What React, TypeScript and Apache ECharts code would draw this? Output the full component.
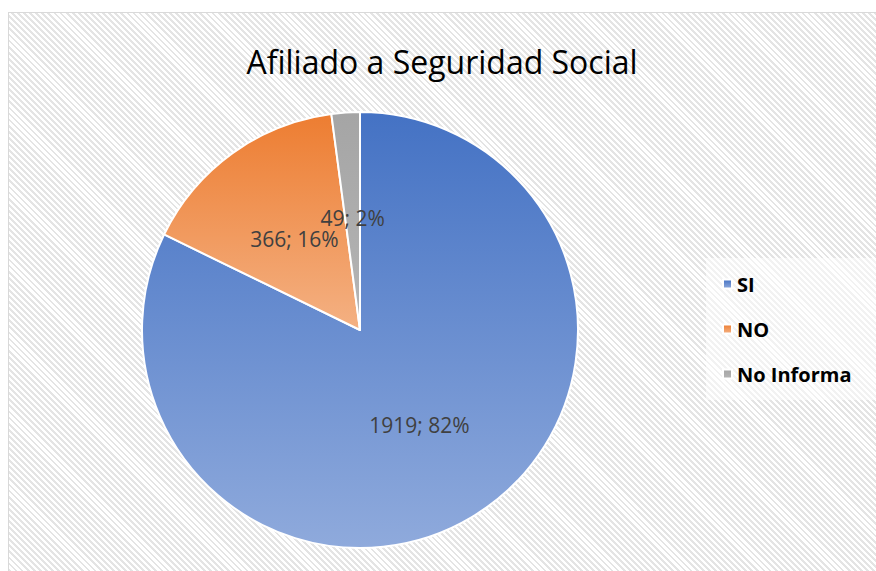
import React, { useEffect, useRef } from "react";
import * as echarts from "echarts";

const categories = ["SI", "NO", "No Informa"];
const values = [1919, 366, 49];
const percents = ["82%", "16%", "2%"];
const titleText = "Afiliado a Seguridad Social";

const gradients = [
  ["#4472C4", "#8FAADC"],
  ["#ED7D31", "#F4B183"],
  ["#A5A5A5", "#B5B5B5"],
];

export default function App() {
  const ref = useRef<HTMLDivElement>(null);
  useEffect(() => {
    if (!ref.current) return;
    const chart = echarts.init(ref.current, null, { renderer: "svg" });
    const data = categories.map((name, i) => ({
      name,
      value: values[i],
      label: { formatter: `${values[i]}; ${percents[i]}` },
      itemStyle: {
        color: new echarts.graphic.LinearGradient(0, 0, 0, 1, [
          { offset: 0, color: gradients[i][0] },
          { offset: 1, color: gradients[i][1] },
        ]),
      },
    }));
    chart.setOption({
      animation: false,
      backgroundColor: "transparent",
      title: {
        text: titleText,
        left: "center",
        top: 32,
        textStyle: {
          fontFamily: "Open Sans",
          fontSize: 32,
          fontWeight: "normal",
          color: "#000",
        },
      },
      legend: {
        orient: "vertical",
        left: 698,
        top: 250,
        padding: [14, 30, 14, 16],
        backgroundColor: "rgba(255,255,255,0.5)",
        itemWidth: 9,
        itemHeight: 9,
        itemGap: 21,
        icon: "rect",
        data: categories,
        textStyle: {
          fontFamily: "Open Sans",
          fontSize: 20,
          fontWeight: "bold",
          color: "#000",
          lineHeight: 24,
        },
      },
      series: [
        {
          type: "pie",
          center: [352, 322],
          radius: 218,
          startAngle: 90,
          clockwise: true,
          avoidLabelOverlap: false,
          labelLayout: { hideOverlap: false },
          data,
          itemStyle: { borderColor: "#fff", borderWidth: 2 },
          label: {
            show: true,
            position: "inner",
            fontFamily: "Open Sans",
            fontSize: 21,
            color: "#404040",
          },
          labelLine: { show: false },
          emphasis: { disabled: true },
        },
      ],
    });
    return () => chart.dispose();
  }, []);
  return (
    <div style={{ position: "fixed", left: 8, top: 8, width: 868, height: 563, background: "#fff" }}>
      <div
        style={{
          position: "absolute",
          left: 0,
          top: 4,
          right: 0,
          bottom: 0,
          borderLeft: "1px solid #d9d9d9",
          borderTop: "1px solid #d9d9d9",
          background:
            "repeating-linear-gradient(45deg, #e4e4e4 0px, #e4e4e4 2px, #ffffff 2px, #ffffff 4.3px)",
        }}
      />
      <div ref={ref} style={{ position: "absolute", left: 0, top: 0, width: 868, height: 563 }} />
    </div>
  );
}
